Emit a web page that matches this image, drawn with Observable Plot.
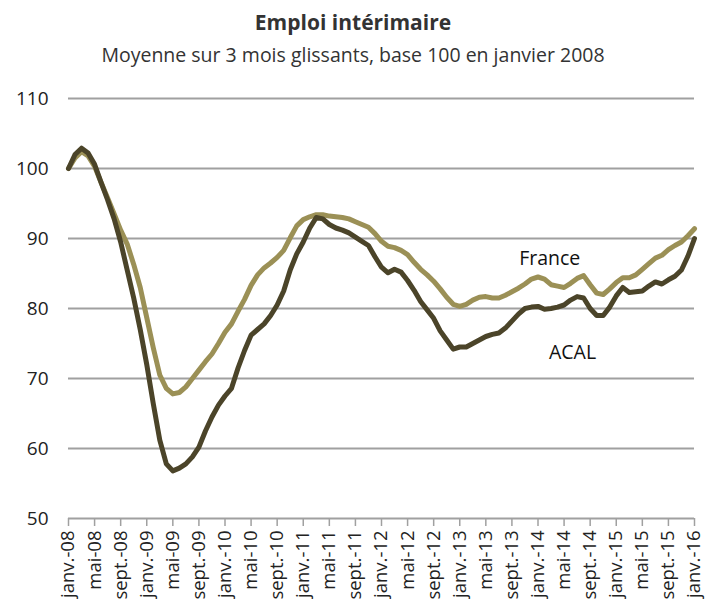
<!DOCTYPE html>
<html>
<head>
<meta charset="utf-8">
<script src="https://cdn.jsdelivr.net/npm/d3@7"></script>
<script src="https://cdn.jsdelivr.net/npm/@observablehq/plot@0.6"></script>
<style>
  body { margin: 0; background: #fff; font-family: "Open Sans", "Noto Sans", sans-serif; }
  #wrap { width: 706px; }
  .title { text-align: center; font-weight: bold; font-size: 21px; color: #333; height: 32px; line-height: 32px; padding-top: 6px; }
  .subtitle { text-align: center; font-size: 19.5px; color: #333; height: 37px; line-height: 34px; }
</style>
</head>
<body>
<div id="wrap">
  <div class="title">Emploi intérimaire</div>
  <div class="subtitle">Moyenne sur 3 mois glissants, base 100 en janvier 2008</div>
  <div id="chart"></div>
</div>
<script>
// Monthly series, janv. 2008 -> janv. 2016 (97 months)
const france = [
  100, 101.5, 102.4, 101.8, 100.3, 98, 95.8, 93.5, 91.2, 89.2, 86.3, 83,
  78.7, 74.4, 70.5, 68.6, 67.8, 68, 68.8, 70, 71.2, 72.4, 73.5, 75,
  76.6, 77.8, 79.6, 81.3, 83.3, 84.8, 85.8, 86.5, 87.3, 88.3, 90.1, 91.8,
  92.7, 93.1, 93.4, 93.4, 93.2, 93.1, 93, 92.8, 92.4, 92, 91.6, 90.7,
  89.6, 88.9, 88.7, 88.3, 87.7, 86.6, 85.6, 84.8, 83.9, 82.8, 81.6, 80.6,
  80.3, 80.6, 81.2, 81.6, 81.7, 81.5, 81.5, 81.9, 82.4, 82.9, 83.5, 84.2,
  84.5, 84.2, 83.4, 83.2, 83, 83.6, 84.3, 84.7, 83.4, 82.2, 82, 82.8,
  83.7, 84.4, 84.4, 84.8, 85.6, 86.4, 87.2, 87.6, 88.4, 89, 89.5, 90.4,
  91.4
];
const acal = [
  100, 102, 102.9, 102.2, 100.6, 98, 95.5, 92.8, 89.5, 85.5, 81.5, 77,
  72, 66.4, 61.2, 57.8, 56.8, 57.2, 57.8, 58.8, 60.2, 62.5, 64.5, 66.2,
  67.5, 68.6, 71.5, 74, 76.2, 77, 77.8, 79, 80.5, 82.5, 85.5, 87.8,
  89.5, 91.5, 93, 92.8, 92, 91.5, 91.2, 90.8, 90.2, 89.6, 89, 87.4,
  85.9, 85.1, 85.6, 85.2, 84, 82.6, 81, 79.8, 78.6, 76.8, 75.5, 74.2,
  74.5, 74.5, 75, 75.5, 76, 76.3, 76.5, 77.2, 78.2, 79.2, 80, 80.2,
  80.3, 79.9, 80, 80.2, 80.5, 81.2, 81.7, 81.5, 80, 79, 79, 80.2,
  81.8, 83, 82.3, 82.4, 82.5, 83.2, 83.8, 83.5, 84.1, 84.6, 85.5, 87.5,
  90
];
// x tick labels, one every 4 months
const tickLabels = [
  "janv.-08", "mai-08", "sept.-08", "janv.-09", "mai-09", "sept.-09",
  "janv.-10", "mai-10", "sept.-10", "janv.-11", "mai-11", "sept.-11",
  "janv.-12", "mai-12", "sept.-12", "janv.-13", "mai-13", "sept.-13",
  "janv.-14", "mai-14", "sept.-14", "janv.-15", "mai-15", "sept.-15",
  "janv.-16"
];
const yTicks = [50, 60, 70, 80, 90, 100, 110];
const seriesNames = ["France", "ACAL"];
const seriesColors = ["#9b9056", "#4b4429"];
// label anchors (month index, value)
const labelMonth = [73.8, 77.3];
const labelValue = [87.1, 73.7];

const rows = [];
france.forEach((v, i) => rows.push({month: i, value: v, series: "France"}));
acal.forEach((v, i) => rows.push({month: i, value: v, series: "ACAL"}));
const labels = seriesNames.map((s, k) => ({name: s, month: labelMonth[k], value: labelValue[k]}));
const tickPos = tickLabels.map((_, k) => k * 4);

const chart = Plot.plot({
  width: 706,
  height: 535,
  marginLeft: 68,
  marginRight: 12,
  marginTop: 23,
  marginBottom: 92,
  style: {fontFamily: "'Open Sans', 'Noto Sans', sans-serif", fontSize: "18px", color: "#222", background: "#fff", overflow: "visible"},
  x: {domain: [0, 96]},
  y: {domain: [50, 110]},
  color: {domain: seriesNames, range: seriesColors},
  marks: [
    Plot.ruleY(yTicks, {stroke: "#a0a0a0", strokeWidth: 2}),
    Plot.axisX({ticks: tickPos, tickFormat: d => tickLabels[d / 4], tickRotate: -90, tickSize: 8, tickPadding: 4, stroke: "#a0a0a0", strokeWidth: 1.5, fontSize: 18.5, label: null}),
    Plot.axisY({ticks: yTicks, tickSize: 0, tickPadding: 20, fontSize: 19, label: null}),
    Plot.line(rows, {x: "month", y: "value", z: "series", stroke: "series", strokeWidth: 5, strokeLinejoin: "round", strokeLinecap: "round"}),
    Plot.text(labels, {x: "month", y: "value", text: "name", fontSize: 19.5, fill: "#111"})
  ]
});
document.getElementById("chart").appendChild(chart);
</script>
</body>
</html>
